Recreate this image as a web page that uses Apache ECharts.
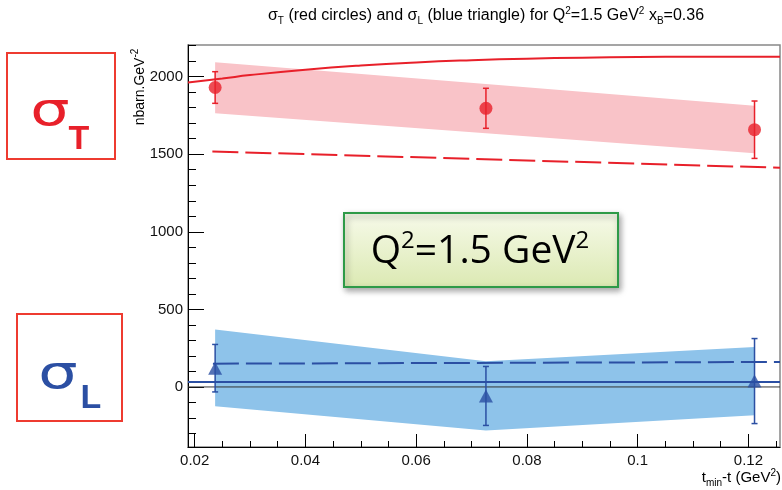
<!DOCTYPE html>
<html>
<head>
<meta charset="utf-8">
<script src="https://cdn.jsdelivr.net/npm/echarts@6/dist/echarts.min.js"></script>
<style>
html, body { margin: 0; padding: 0; background: #fff; }
#chart { width: 782px; height: 490px; }
</style>
</head>
<body>
<div id="chart"></div>
<script>
// measured points (t_min - t)
var tPoints = [0.0237, 0.0726, 0.1211];
var sigmaT = [1930, 1796, 1658];
var sigmaTErr = [102, 129, 185];
var sigmaL = [121, -58, 38];
var sigmaLErr = [153, 190, 274];

// shaded bands
var bandTHi = [2093, 1952, 1813];
var bandTLo = [1764, 1636, 1506];
var bandLHi = [370, 165, 258];
var bandLLo = [-125, -280, -183];

// model curves
var curveTSolidX = [0.0188, 0.025, 0.03, 0.04, 0.05, 0.06, 0.07, 0.08, 0.09, 0.1, 0.11, 0.1257];
var curveTSolidY = [1963, 1988, 2010, 2045, 2072, 2092, 2106, 2116, 2122, 2126, 2128, 2128];
var curveTDashX = [0.0232, 0.1257];
var curveTDashY = [1518, 1413];
var curveLSolidX = [0.0188, 0.1257];
var curveLSolidY = [32, 32];
var curveLDashX = [0.0233, 0.1257];
var curveLDashY = [150, 161];

// axes
var xMin = 0.0188, xMax = 0.1257;
var yMin = -387, yMax = 2204;
var xTicks = [0.02, 0.04, 0.06, 0.08, 0.1, 0.12];
var xMinorTicks = [0.02, 0.025, 0.03, 0.035, 0.04, 0.045, 0.05, 0.055, 0.06, 0.065, 0.07,
    0.075, 0.08, 0.085, 0.09, 0.095, 0.1, 0.105, 0.11, 0.115, 0.12, 0.125];
var yTicks = [0, 500, 1000, 1500, 2000];
var yMinorTicks = [-300, -200, -100, 0, 100, 200, 300, 400, 500, 600, 700, 800, 900, 1000,
    1100, 1200, 1300, 1400, 1500, 1600, 1700, 1800, 1900, 2000, 2100, 2200];

var RED = '#e8202a';
var BLUE = '#2b4fa3';
var FONT = 'Liberation Sans';

function zip(xs, ys) {
    return xs.map(function (x, i) { return [x, ys[i]]; });
}

function plain(v) {
    return String(v);
}

function bandItem(color) {
    return function (params, api) {
        if (params.dataIndex !== 0) return null;
        var n = params.dataInsideLength;
        var pts = [];
        for (var i = 0; i < n; i++) pts.push(api.coord([api.value(0, i), api.value(2, i)]));
        for (var j = n - 1; j >= 0; j--) pts.push(api.coord([api.value(0, j), api.value(1, j)]));
        return { type: 'polygon', shape: { points: pts }, style: { fill: color } };
    };
}

function errorItem(color) {
    return function (params, api) {
        var x = api.value(0);
        var top = api.coord([x, api.value(2)]);
        var bot = api.coord([x, api.value(1)]);
        var cap = 3;
        var st = { stroke: color, lineWidth: 1.5 };
        return {
            type: 'group',
            children: [
                { type: 'line', shape: { x1: top[0], y1: top[1], x2: bot[0], y2: bot[1] }, style: st },
                { type: 'line', shape: { x1: top[0] - cap, y1: top[1], x2: top[0] + cap, y2: top[1] }, style: st },
                { type: 'line', shape: { x1: bot[0] - cap, y1: bot[1], x2: bot[0] + cap, y2: bot[1] }, style: st }
            ]
        };
    };
}

function lineSeries(xs, ys, color, type) {
    return {
        type: 'line',
        data: zip(xs, ys),
        smooth: xs.length > 2,
        symbol: 'none',
        lineStyle: { color: color, width: 2, type: type || 'solid' },
        z: 3,
        silent: true
    };
}

var chart = echarts.init(document.getElementById('chart'));

var option = {
    animation: false,
    grid: {
        left: 188, right: 2, top: 45, bottom: 43,
        show: true, borderColor: '#888', borderWidth: 1.5,
        containLabel: false
    },
    xAxis: [{
        type: 'value', min: xMin, max: xMax,
        axisLine: { show: true, onZero: false, lineStyle: { color: '#000', width: 1 } },
        axisTick: { show: true, inside: true, length: 13, customValues: xTicks, lineStyle: { color: '#000' } },
        axisLabel: { customValues: xTicks, formatter: plain, fontFamily: FONT, fontSize: 15, color: '#111', margin: 6 },
        splitLine: { show: false }
    }, {
        type: 'value', min: xMin, max: xMax, position: 'bottom',
        axisLine: { show: false, onZero: false },
        axisTick: { show: true, inside: true, length: 6, customValues: xMinorTicks, lineStyle: { color: '#000' } },
        axisLabel: { show: false },
        splitLine: { show: false }
    }],
    yAxis: [{
        type: 'value', min: yMin, max: yMax,
        axisLine: { show: true, onZero: false, lineStyle: { color: '#000', width: 1 } },
        axisTick: { show: true, inside: true, length: 16, customValues: yTicks, lineStyle: { color: '#000' } },
        axisLabel: { customValues: yTicks, formatter: plain, fontFamily: FONT, fontSize: 15, color: '#111', margin: 5 },
        splitLine: { show: false }
    }, {
        type: 'value', min: yMin, max: yMax, position: 'left',
        axisLine: { show: false, onZero: false },
        axisTick: { show: true, inside: true, length: 8, customValues: yMinorTicks, lineStyle: { color: '#000' } },
        axisLabel: { show: false },
        splitLine: { show: false }
    }],
    series: [
        {
            type: 'custom', renderItem: bandItem('#f9c3c8'), z: 1, silent: true,
            data: tPoints.map(function (t, i) { return [t, bandTLo[i], bandTHi[i]]; })
        },
        {
            type: 'custom', renderItem: bandItem('#8ec3ea'), z: 1, silent: true,
            data: tPoints.map(function (t, i) { return [t, bandLLo[i], bandLHi[i]]; })
        },
        {
            type: 'line', data: [[xMin, 0], [xMax, 0]], symbol: 'none', silent: true, z: 2,
            lineStyle: { color: '#333', width: 1 }
        },
        lineSeries(curveTSolidX, curveTSolidY, RED),
        lineSeries(curveTDashX, curveTDashY, RED, [26, 7]),
        lineSeries(curveLSolidX, curveLSolidY, BLUE),
        lineSeries(curveLDashX, curveLDashY, BLUE, [26, 7]),
        {
            type: 'custom', renderItem: errorItem(RED), z: 4, silent: true,
            data: tPoints.map(function (t, i) { return [t, sigmaT[i] - sigmaTErr[i], sigmaT[i] + sigmaTErr[i]]; })
        },
        {
            type: 'custom', renderItem: errorItem(BLUE), z: 4, silent: true,
            data: tPoints.map(function (t, i) { return [t, sigmaL[i] - sigmaLErr[i], sigmaL[i] + sigmaLErr[i]]; })
        },
        {
            type: 'scatter', data: zip(tPoints, sigmaT), symbol: 'circle', symbolSize: 13, z: 5,
            itemStyle: { color: RED }
        },
        {
            type: 'scatter', data: zip(tPoints, sigmaL), symbol: 'triangle', symbolSize: [14, 13], z: 5,
            itemStyle: { color: BLUE }
        }
    ],
    graphic: [
        // title
        {
            type: 'text', x: 486, y: 16, z: 10,
            style: {
                text: '{n|σ}{sb|T}{n| (red circles) and σ}{sb|L}{n| (blue triangle) for Q}{sp|2}{n|=1.5 GeV}{sp|2}{n| x}{sb|B}{n|=0.36}',
                align: 'center', verticalAlign: 'middle',
                rich: {
                    n: { fontFamily: FONT, fontSize: 16, color: '#222', lineHeight: 20 },
                    sb: { fontFamily: FONT, fontSize: 10, color: '#222', verticalAlign: 'bottom', lineHeight: 20 },
                    sp: { fontFamily: FONT, fontSize: 10, color: '#222', verticalAlign: 'top', lineHeight: 20 }
                }
            }
        },
        // y axis title
        {
            type: 'text', x: 140, y: 87, rotation: Math.PI / 2, z: 10,
            style: {
                text: '{n|nbarn.GeV}{sp|-2}',
                align: 'center', verticalAlign: 'middle',
                rich: {
                    n: { fontFamily: FONT, fontSize: 14, color: '#222', lineHeight: 20 },
                    sp: { fontFamily: FONT, fontSize: 10, color: '#222', verticalAlign: 'top', lineHeight: 20 }
                }
            }
        },
        // x axis title
        {
            type: 'text', x: 781, y: 478, z: 10,
            style: {
                text: '{n|t}{sb|min}{n|-t (GeV}{sp|2}{n|)}',
                align: 'right', verticalAlign: 'middle',
                rich: {
                    n: { fontFamily: FONT, fontSize: 15, color: '#222', lineHeight: 20 },
                    sb: { fontFamily: FONT, fontSize: 10, color: '#222', verticalAlign: 'bottom', lineHeight: 20 },
                    sp: { fontFamily: FONT, fontSize: 10, color: '#222', verticalAlign: 'top', lineHeight: 20 }
                }
            }
        },
        // sigma_T box
        {
            type: 'rect', shape: { x: 7, y: 53, width: 108, height: 106 }, z: 10,
            style: { fill: '#fff', stroke: '#ee3b30', lineWidth: 2 }
        },
        {
            type: 'text', x: 50, y: 113, z: 11,
            style: { text: 'σ', fontFamily: 'DejaVu Sans', fontSize: 46, fill: RED, align: 'center', verticalAlign: 'middle' },
            scaleX: 1.35
        },
        {
            type: 'text', x: 79, y: 140, z: 11,
            style: { text: 'T', fontFamily: FONT, fontWeight: 'bold', fontSize: 34, fill: RED, align: 'center', verticalAlign: 'middle' }
        },
        // sigma_L box
        {
            type: 'rect', shape: { x: 17, y: 314, width: 105, height: 107 }, z: 10,
            style: { fill: '#fff', stroke: '#ee3b30', lineWidth: 2 }
        },
        {
            type: 'text', x: 58, y: 376, z: 11,
            style: { text: 'σ', fontFamily: 'DejaVu Sans', fontSize: 46, fill: BLUE, align: 'center', verticalAlign: 'middle' },
            scaleX: 1.35
        },
        {
            type: 'text', x: 91, y: 399, z: 11,
            style: { text: 'L', fontFamily: FONT, fontWeight: 'bold', fontSize: 34, fill: BLUE, align: 'center', verticalAlign: 'middle' }
        },
        // Q2 box
        {
            type: 'rect', shape: { x: 344, y: 213, width: 274, height: 74 }, z: 10,
            style: {
                fill: new echarts.graphic.LinearGradient(0, 0, 0, 1, [
                    { offset: 0, color: '#f7faea' },
                    { offset: 1, color: '#dbe9b2' }
                ]),
                stroke: '#2e9a48', lineWidth: 2,
                shadowBlur: 6, shadowOffsetX: 2, shadowOffsetY: 3, shadowColor: 'rgba(0,0,0,0.35)'
            }
        },
        {
            type: 'text', x: 480, y: 252, z: 11,
            style: {
                text: '{n|Q}{sp|2}{n|=1.5 GeV}{sp|2}',
                align: 'center', verticalAlign: 'middle',
                rich: {
                    n: { fontFamily: 'Open Sans', fontSize: 39, color: '#111', lineHeight: 46 },
                    sp: { fontFamily: 'Open Sans', fontSize: 24, color: '#111', verticalAlign: 'top', lineHeight: 46 }
                }
            }
        }
    ]
};

chart.setOption(option);
</script>
</body>
</html>
